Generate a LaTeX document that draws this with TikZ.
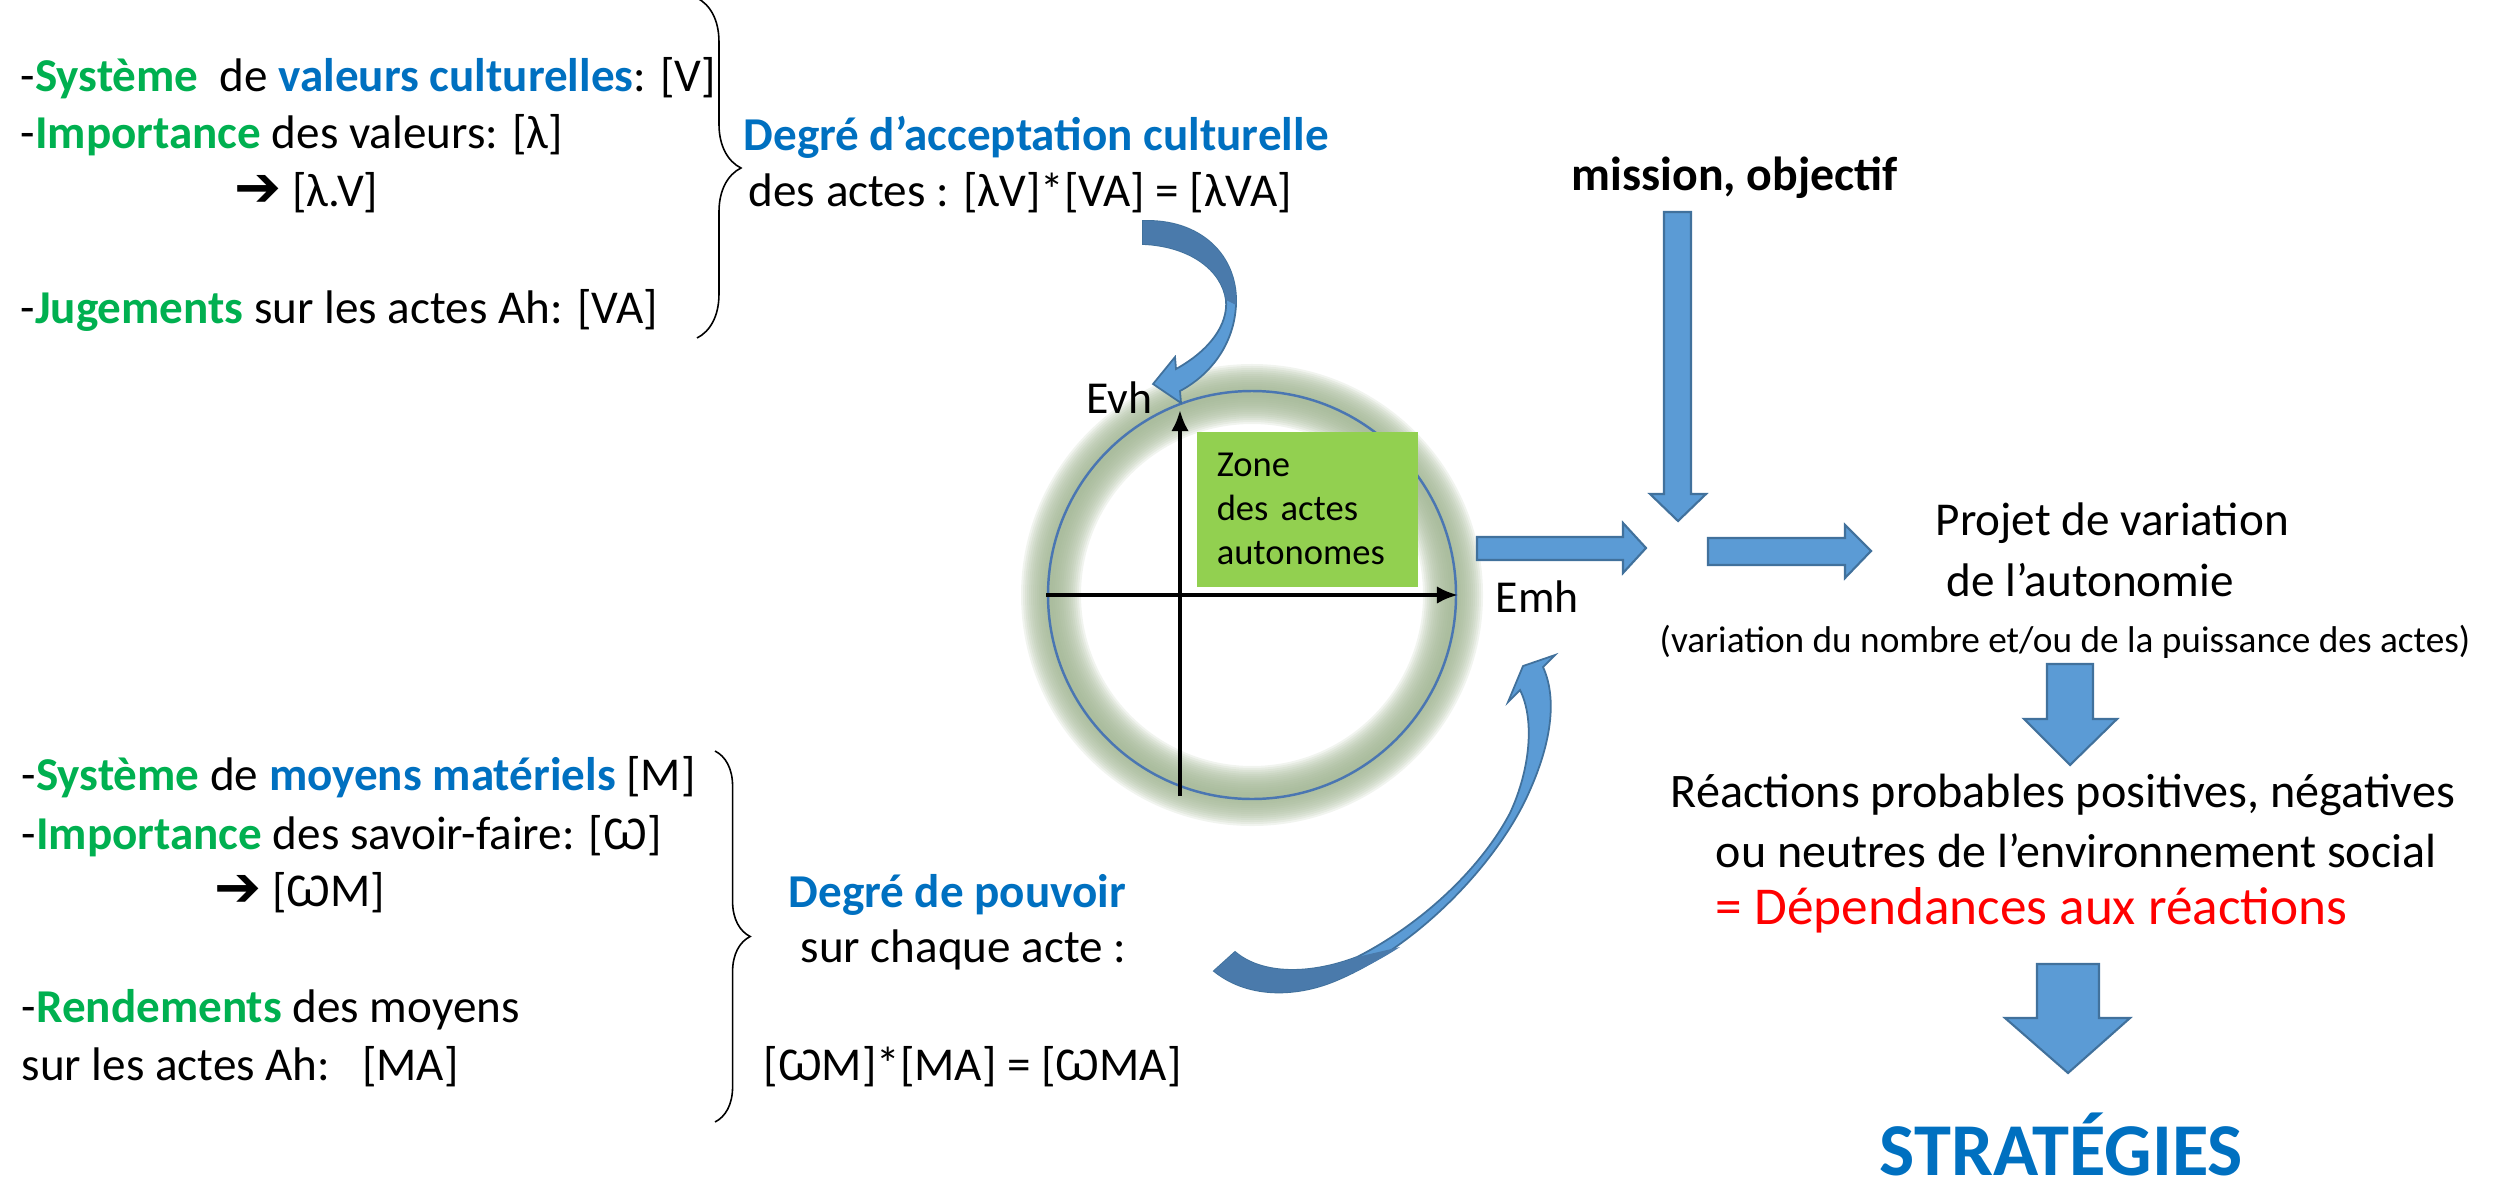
\documentclass[tikz,border=0pt]{standalone}
\usepackage{fontspec}
\setmainfont{Carlito}
\newfontfamily\dingfont{DejaVu Sans}
\usetikzlibrary{positioning,decorations.pathreplacing}
\usetikzlibrary{arrows.meta}

\definecolor{grn}{HTML}{00B050}
\definecolor{blu}{HTML}{0070C0}
\definecolor{rouge}{HTML}{FF0000}
\definecolor{arrfill}{HTML}{5B9BD5}
\definecolor{arrline}{HTML}{41719C}
\definecolor{arrdark}{HTML}{4A7AAB}
\definecolor{zonegrn}{HTML}{92D050}
\definecolor{ringblue}{HTML}{4A76B2}
\definecolor{glowc}{HTML}{A3B795}

\tikzstyle{txt}        = [anchor=west, inner sep=0pt, font=\fontsize{13.4}{16}\selectfont]
\tikzstyle{smalltxt}   = [anchor=west, inner sep=0pt, font=\fontsize{10.6}{12}\selectfont]
\tikzstyle{zonebox}    = [anchor=north west, fill=zonegrn, minimum width=2.21cm, minimum height=1.55cm, text width=1.81cm, inner xsep=5.7pt, inner ysep=0pt, align=left, font=\fontsize{10.4}{12.5}\selectfont]
\tikzstyle{blockarrow} = [fill=arrfill, draw=arrline, line width=0.6pt, line join=miter]
\tikzstyle{bracegroup} = [decorate, line width=0.45pt]
\tikzstyle{axis}       = [line width=1.1pt, -{Latex[length=6pt,width=5pt]}]

\newcommand{\fleche}{{\dingfont\bfseries\fontsize{16}{16}\selectfont ➔}}

\begin{document}
\begin{tikzpicture}[x=0.01cm,y=-0.01cm]
  \useasboundingbox (0,0) rectangle (2501,1191);

  % valeurs culturelles
  \node[txt] (sysval)   at (20,78)  {-\textcolor{grn}{\textbf{Système}}\ \ de \textcolor{blu}{\textbf{valeurs culturelles}}: [V]};
  \node[txt] (impval)   at (20,135) {-\textcolor{grn}{\textbf{Importance}} des valeurs: [λ]};
  \node[txt] (lamV)     at (234,193) {\fleche\ [λ.V]};
  \node[txt] (jugement) at (20,310) {-\textcolor{grn}{\textbf{Jugements}} sur les actes Ah: [VA]};
  \draw[bracegroup, decoration={brace, amplitude=12.5pt}] (697,-2) -- (697,338);
  \node[txt, text=blu, font=\fontsize{13.4}{16}\selectfont\bfseries] (degacc) at (743,137) {Degré d’acceptation culturelle};
  \node[txt] (actesacc) at (748,193) {des actes : [λV]*[VA] = [λVA]};

  % moyens materiels
  \node[txt] (sysmoy) at (21,777)  {-\textcolor{grn}{\textbf{Système}} de \textcolor{blu}{\textbf{moyens matériels}} [M]};
  \node[txt] (impsav) at (21,836)  {-\textcolor{grn}{\textbf{Importance}} des savoir-faire: [Ѡ]};
  \node[txt] (omM)    at (214,893) {\fleche\ [ѠM]};
  \node[txt] (rend)   at (21,1010) {-\textcolor{grn}{\textbf{Rendements}} des moyens};
  \node[txt] (rendA)  at (21,1067) {sur les actes Ah:\ \ \ [MA]};
  \draw[bracegroup, decoration={brace, amplitude=10pt}] (715,751) -- (715,1122);
  \node[txt, text=blu, font=\fontsize{13.4}{16}\selectfont\bfseries] (degpouv) at (788,895) {Degré de pouvoir};
  \node[txt] (chaque) at (800,950)  {sur chaque acte :};
  \node[txt] (omMA)   at (763,1067) {[ѠM]*[MA] = [ѠMA]};

  % cercle des actes
  \coordinate (ctr) at (1252,595);
  \foreach \w in {4,8,...,60}
    \draw[glowc, opacity=0.15, line width=\w*0.2845pt] (ctr) circle[radius=201];
  \draw[ringblue, line width=0.7pt] (ctr) circle[radius=204];
  \node[zonebox] (zone) at (1196,431) {Zone\\des actes\\autonomes};
  \coordinate (yb) at (1180,796);
  \coordinate (yt) at (1180,410);
  \coordinate (xl) at (1046,595);
  \coordinate (xr) at (1458,595);
  \draw[axis] (yb) -- (yt);
  \draw[axis] (xl) -- (xr);
  \node[txt, font=\fontsize{13}{15}\selectfont] (evh) at (1086,398) {Evh};
  \node[txt, font=\fontsize{13}{15}\selectfont] (emh) at (1495,597) {Emh};

  % fleches courbes
  \fill[arrfill, draw=arrline, line width=0.5pt] (1143,221) .. controls (1200,219) and (1238,255) .. (1236,305)
    .. controls (1234,345) and (1210,375) .. (1180,391) -- (1181,403) -- (1153,384) -- (1175,357) -- (1176,369)
    .. controls (1210,350) and (1228,325) .. (1226,300) .. controls (1222,270) and (1190,246) .. (1143,244) -- cycle;
  \fill[arrdark] (1143,221) .. controls (1200,219) and (1238,255) .. (1236,305) -- (1226,300)
    .. controls (1222,270) and (1190,246) .. (1143,244) -- cycle;
  \fill[arrfill, draw=arrline, line width=0.5pt] (1214,971) .. controls (1250,1000) and (1300,996) .. (1337,980)
    .. controls (1420,945) and (1500,860) .. (1530,790) .. controls (1550,745) and (1558,700) .. (1543,667)
    -- (1555,655) -- (1523,666) -- (1508,702) -- (1520,690)
    .. controls (1535,720) and (1530,770) .. (1510,813) .. controls (1480,870) and (1420,925) .. (1357,957)
    .. controls (1310,975) and (1262,975) .. (1235,952) -- cycle;
  \fill[arrdark] (1214,971) .. controls (1250,1000) and (1300,996) .. (1337,980)
    .. controls (1360,970) and (1380,960) .. (1400,947) -- (1357,957)
    .. controls (1310,975) and (1262,975) .. (1235,952) -- cycle;

  % projet et reactions
  \node[txt, font=\fontsize{13.6}{16}\selectfont\bfseries] (mission) at (1571,178) {mission, objectif};
  \draw[blockarrow] (1664,212) -- (1691,212) -- (1691,494) -- (1706,494) -- (1678,521) -- (1650,494) -- (1664,494) -- cycle;
  \draw[blockarrow] (1477,537) -- (1623,537) -- (1623,523) -- (1646,548) -- (1623,573) -- (1623,560) -- (1477,560) -- cycle;
  \draw[blockarrow] (1708,538) -- (1845,538) -- (1845,525) -- (1871,551) -- (1845,578) -- (1845,565) -- (1708,565) -- cycle;
  \node[txt] (projet)  at (1935,523) {Projet de variation};
  \node[txt] (projetB) at (1946,580) {de l’autonomie};
  \node[smalltxt] (projvar) at (1659,642) {(variation du nombre et/ou de la puissance des actes)};
  \draw[blockarrow] (2047,664) -- (2093,664) -- (2093,719) -- (2117,719) -- (2070,765) -- (2024,719) -- (2047,719) -- cycle;
  \node[txt, font=\fontsize{13.7}{16}\selectfont] (react)  at (1670,795) {Réactions probables positives, négatives};
  \node[txt, font=\fontsize{13.65}{16}\selectfont] (reactB) at (1715,851) {ou neutres de l’environnement social};
  \node[txt, text=rouge, font=\fontsize{15.15}{17}\selectfont] (depend) at (1715,910) {= Dépendances aux réactions};
  \draw[blockarrow] (2037,964) -- (2099,964) -- (2099,1018) -- (2130,1018) -- (2068,1073) -- (2005,1018) -- (2037,1018) -- cycle;
  \node[txt, anchor=base west, text=blu, font=\fontsize{21.2}{24}\selectfont\bfseries] (strat) at (1879,1175) {STRATÉGIES};
\end{tikzpicture}
\end{document}
